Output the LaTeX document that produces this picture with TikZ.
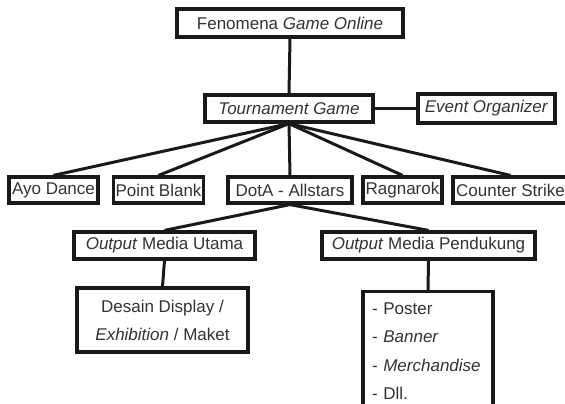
\documentclass[tikz,border=0pt]{standalone}
\usepackage{fontspec}
\setmainfont{Liberation Sans}
\begin{document}
\begin{tikzpicture}[x=1pt,y=-1pt,
  box/.style={draw=black!90, line width=3.2pt, fill=white, inner sep=2pt,
    text=black!80, font=\fontsize{17}{20}\selectfont, minimum height=27pt},
  link/.style={draw=black!90, line width=3pt}]
\useasboundingbox (0,0) rectangle (565,404);
% nodes
\node[box, minimum width=226pt, minimum height=28pt] (fen) at (290,23) {Fenomena \textit{Game Online}};
\node[box, minimum width=168pt] (tg) at (289,108.5) {\textit{Tournament Game}};
\node[box, minimum width=137pt, minimum height=29pt] (eo) at (486.5,108.5) {\textit{Event Organizer}};
\node[box, minimum width=89pt, minimum height=26pt] (ayo) at (53.5,190) {Ayo Dance};
\node[box, minimum width=87pt, minimum height=26pt] (pb) at (158.5,190) {Point Blank};
\node[box, minimum width=124pt, minimum height=26pt] (dota) at (290,190) {DotA - Allstars};
\node[box, minimum width=79pt, minimum height=26pt] (rag) at (402.5,190) {Ragnarok};
\node[box, minimum width=115pt, minimum height=26pt] (cs) at (510.5,190) {Counter Strike};
\node[box, minimum width=181pt] (omu) at (164.5,245.5) {\textit{Output} Media Utama};
\node[box, minimum width=213pt] (omp) at (428.5,245.5) {\textit{Output} Media Pendukung};
\node[box, minimum width=171pt, minimum height=64pt, align=center,
  font=\fontsize{17}{28}\selectfont] (des) at (162.5,320) {Desain Display /\\\textit{Exhibition} / Maket};
\node[box, anchor=north, text width=112pt, inner xsep=9pt, inner ysep=11pt, align=left,
  font=\fontsize{17}{28.5}\selectfont] (lst) at (428,290)
  {- Poster\\- \textit{Banner}\\- \textit{Merchandise}\\- Dll.\\[20pt]};
% connectors
\draw[link] (fen.south) -- (tg.north);
\draw[link] (tg.east) -- (eo.west);
\draw[link] (tg.south) -- (ayo.north);
\draw[link] (tg.south) -- (pb.north);
\draw[link] (tg.south) -- (dota.north);
\draw[link] (tg.south) -- (rag.north);
\draw[link] (tg.south) -- (cs.north);
\draw[link] (dota.south) -- (omu.north);
\draw[link] (dota.south) -- (omp.north);
\draw[link] (omu.south) -- (des.north);
\draw[link] (omp.south) -- (lst.north);
\end{tikzpicture}
\end{document}
